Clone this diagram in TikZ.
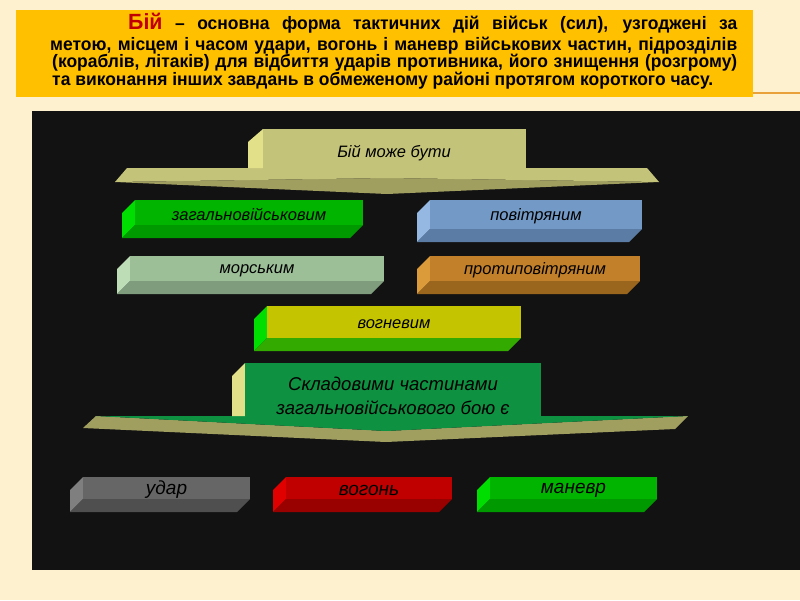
\documentclass[tikz,border=0pt]{standalone}
\usepackage{fontspec}
\setmainfont{Liberation Sans}
\newfontfamily\titlefont[FakeStretch=0.97]{Liberation Sans Bold}
\definecolor{cream}{HTML}{FEF1CF}
\definecolor{gold}{HTML}{FFC000}
\definecolor{rule}{HTML}{E9A23B}
\definecolor{board}{HTML}{121212}
\definecolor{bijred}{HTML}{C00000}
\definecolor{khakiface}{HTML}{C4C37A}
\definecolor{khakilight}{HTML}{E2E18A}
\definecolor{khakidark}{HTML}{A09F60}
\definecolor{partsgreen}{HTML}{0F9142}
\definecolor{genface}{HTML}{00B400}
\definecolor{genlow}{HTML}{009900}
\definecolor{genleft}{HTML}{00DD00}
\definecolor{airface}{HTML}{7399C6}
\definecolor{airlow}{HTML}{5B7DA5}
\definecolor{airleft}{HTML}{95B8E3}
\definecolor{seaface}{HTML}{9CBF98}
\definecolor{sealow}{HTML}{7F9C7C}
\definecolor{sealeft}{HTML}{BCDDB6}
\definecolor{aaface}{HTML}{C2802A}
\definecolor{aalow}{HTML}{9A661E}
\definecolor{aaleft}{HTML}{DC9B3A}
\definecolor{fireface}{HTML}{C4C400}
\definecolor{firelow}{HTML}{33AA00}
\definecolor{strikeface}{HTML}{666666}
\definecolor{strikelow}{HTML}{4F4F4F}
\definecolor{strikeleft}{HTML}{7F7F7F}
\definecolor{redface}{HTML}{C00000}
\definecolor{redlow}{HTML}{990000}
\definecolor{redleft}{HTML}{E00000}
\tikzset{
  bartext/.style={font=\itshape\fontsize{16.5}{19}\selectfont, text=black, inner sep=0pt},
  partstext/.style={bartext, font=\itshape\fontsize{18.5}{19}\selectfont},
  titleline/.style={font=\titlefont\fontsize{18}{18}\selectfont, inner sep=0pt, anchor=base west},
}
% #1 name, #2 x0, #3 y0, #4 x1, #5 y1, #6 face, #7 lower face, #8 left face, #9 text
\newcommand{\barbox}[9]{%
  \fill[#8] (#2,#3+13) -- (#2+13,#3) -- (#2+13,#5-13) -- (#2,#5) -- cycle;
  \fill[#7] (#2,#5) -- (#2+13,#5-13) -- (#4,#5-13) -- (#4-13,#5) -- cycle;
  \fill[#6] (#2+13,#3) rectangle (#4,#5-13);
  \node[bartext] (#1) at ({(#2+13+#4)/2},{(#3+#5-13)/2+2}) {#9};
}
\begin{document}
\begin{tikzpicture}[x=1pt,y=-1pt]
  \fill[cream] (0,0) rectangle (800,600);
  \useasboundingbox (0,0) rectangle (800,600);
  % definition
  \fill[gold] (16,10) rectangle (753,97);
  \draw[rule, line width=1.3pt] (753,93) -- (800,93);
  \node[titleline] (title1) at (128,29) {\makebox[609pt][s]{\textcolor{bijred}{\fontsize{22}{22}\selectfont Бій} – основна форма тактичних дій військ (сил), узгоджені за}};
  \node[titleline] (title2) at (50,50) {\makebox[687pt][s]{метою, місцем і часом удари, вогонь і маневр військових частин, підрозділів}};
  \node[titleline] (title3) at (52,67.5) {\makebox[685pt][s]{(кораблів, літаків) для відбиття ударів противника, його знищення (розгрому)}};
  \node[titleline] (title4) at (52,85) {та виконання інших завдань в обмеженому районі протягом короткого часу.};
  % board
  \fill[board] (32,111) rectangle (800,570);
  % upper arrow
  \fill[khakidark] (115,182) -- (387,178) -- (659,182) -- (387,194) -- cycle;
  \fill[khakiface] (127,168) -- (647,168) -- (659,182) -- (387,178) -- (115,182) -- cycle;
  \fill[khakilight] (248,142) -- (263,129) -- (263,168) -- (248,168) -- cycle;
  \fill[khakiface] (263,129) rectangle (526,168);
  \node[bartext] (kinds) at (394,153) {Бій може бути};
  % kinds of battle
  \barbox{general}{122}{200}{363}{238}{genface}{genlow}{genleft}{загальновійськовим}
  \barbox{air}{417}{200}{642}{242}{airface}{airlow}{airleft}{повітряним}
  \barbox{sea}{117}{256}{384}{294}{seaface}{sealow}{sealeft}{морським}
  \barbox{antiair}{417}{256}{640}{294}{aaface}{aalow}{aaleft}{протиповітряним}
  \barbox{fire}{254}{306}{521}{351}{fireface}{firelow}{genleft}{вогневим}
  % lower arrow
  \fill[khakidark] (96,416) -- (83,428) -- (386,442) -- (675,429) -- (688,416) -- (386,431) -- cycle;
  \fill[partsgreen] (96,416) -- (688,416) -- (386,431) -- cycle;
  \fill[khakilight] (232,376) -- (245,363) -- (245,416) -- (232,416) -- cycle;
  \fill[partsgreen] (245,363) rectangle (541,416);
  \node[partstext] (parts1) at (393,384) {Складовими частинами};
  \node[partstext] (parts2) at (393,408) {загальновійськового бою є};
  % parts of battle
  \tikzset{bartext/.append style={font=\itshape\fontsize{19}{19}\selectfont}}
  \barbox{strike}{70}{477}{250}{512}{strikeface}{strikelow}{strikeleft}{удар}
  \barbox{firing}{273}{477}{452}{512}{redface}{redlow}{redleft}{вогонь}
  \barbox{manoeuvre}{477}{477}{657}{512}{genface}{genlow}{genleft}{маневр}
\end{tikzpicture}
\end{document}
